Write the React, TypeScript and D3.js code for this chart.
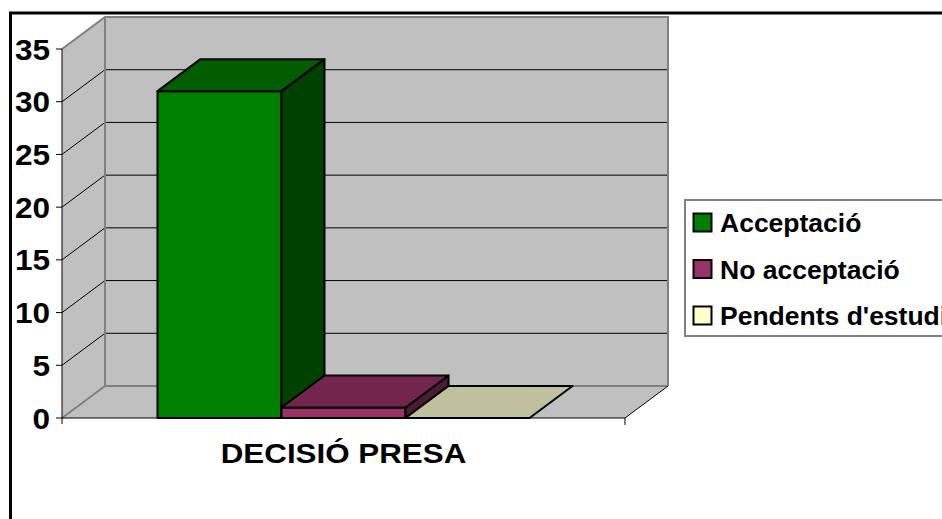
import React, { useEffect, useRef } from 'react';
import * as d3 from 'd3';

// chart data
const categories = ['DECISIÓ PRESA'];
const seriesNames = ['Acceptació', 'No acceptació', "Pendents d'estudi"];
const seriesValues = [31, 1, 0];
const yTicks = [0, 5, 10, 15, 20, 25, 30, 35];

// face colours per series: front, top, side
const frontColors = ['#008000', '#993366', '#FFFFCC'];
const topColors = ['#005E00', '#73264D', '#C0C0A0'];
const sideColors = ['#004000', '#4D1A33', '#A0A080'];

export default function App() {
  const svgRef = useRef<SVGSVGElement>(null);

  useEffect(() => {
    if (!svgRef.current) return;
    const svg = d3.select(svgRef.current);
    svg.selectAll('*').remove();

    const font = 'Liberation Sans, Arial, sans-serif';
    const dx = 43, dy = -32; // 3D depth offset
    const left = 62, right = 625;

    const y = d3.scaleLinear().domain([0, 35]).range([418, 49]);
    const x0 = d3.scaleBand<string>().domain(categories).range([left, right]);
    const x1 = d3
      .scaleBand<string>()
      .domain(seriesNames)
      .range([0, x0.bandwidth()])
      .paddingOuter(0.77);

    const y0 = y(0);
    const yTop = y(35);

    // outer frame
    svg.append('rect')
      .attr('x', 10.5).attr('y', 13)
      .attr('width', 1000).attr('height', 600)
      .attr('fill', 'white')
      .attr('stroke', 'black').attr('stroke-width', 3);

    // side wall
    svg.append('path')
      .attr('d', `M${left},${yTop}L${left + dx},${yTop + dy}L${left + dx},${y0 + dy}L${left},${y0}Z`)
      .attr('fill', '#C0C0C0');
    // back wall
    svg.append('rect')
      .attr('x', left + dx).attr('y', yTop + dy)
      .attr('width', right - left).attr('height', y0 - yTop)
      .attr('fill', '#C0C0C0');
    // floor
    svg.append('path')
      .attr('d', `M${left},${y0}L${left + dx},${y0 + dy}L${right + dx},${y0 + dy}L${right},${y0}Z`)
      .attr('fill', '#C0C0C0');

    // gridlines
    const grid = yTicks.filter(t => t > 0 && t < 35);
    svg.selectAll('.gridback')
      .data(grid)
      .enter()
      .append('line')
      .attr('x1', left + dx).attr('x2', right + dx)
      .attr('y1', d => y(d) + dy).attr('y2', d => y(d) + dy)
      .attr('stroke', 'black').attr('stroke-width', 1);
    svg.selectAll('.gridside')
      .data(grid)
      .enter()
      .append('line')
      .attr('x1', left).attr('x2', left + dx)
      .attr('y1', d => y(d)).attr('y2', d => y(d) + dy)
      .attr('stroke', 'black').attr('stroke-width', 1);

    // wall edges
    const edge = '#808080';
    svg.append('path')
      .attr('d', `M${left},${yTop}L${left + dx},${yTop + dy}L${right + dx},${yTop + dy}L${right + dx},${y0 + dy}`)
      .attr('fill', 'none').attr('stroke', edge).attr('stroke-width', 2);
    svg.append('path')
      .attr('d', `M${left + dx},${yTop + dy}L${left + dx},${y0 + dy}L${right + dx},${y0 + dy}M${left},${y0}L${left + dx},${y0 + dy}`)
      .attr('fill', 'none').attr('stroke', edge).attr('stroke-width', 2);
    svg.append('line')
      .attr('x1', right).attr('y1', y0).attr('x2', right + dx).attr('y2', y0 + dy)
      .attr('stroke', 'black').attr('stroke-width', 1);

    // bars
    const bars = svg.append('g');
    seriesNames.forEach((name, i) => {
      const v = seriesValues[i];
      const bx = (x0(categories[0]) || 0) + (x1(name) || 0);
      const bw = x1.bandwidth();
      const by = y(v);
      const g = bars.append('g')
        .attr('stroke', 'black').attr('stroke-width', 2).attr('stroke-linejoin', 'round');
      if (v > 0) {
        g.append('rect')
          .attr('x', bx).attr('y', by).attr('width', bw).attr('height', y0 - by)
          .attr('fill', frontColors[i]);
        g.append('path')
          .attr('d', `M${bx + bw},${by}L${bx + bw + dx},${by + dy}L${bx + bw + dx},${y0 + dy}L${bx + bw},${y0}Z`)
          .attr('fill', sideColors[i]);
      }
      g.append('path')
        .attr('d', `M${bx},${by}L${bx + dx},${by + dy}L${bx + bw + dx},${by + dy}L${bx + bw},${by}Z`)
        .attr('fill', topColors[i]);
    });

    // axes lines and ticks
    svg.append('line')
      .attr('x1', left).attr('x2', left).attr('y1', yTop).attr('y2', y0 + 6)
      .attr('stroke', 'black').attr('stroke-width', 1);
    svg.append('line')
      .attr('x1', left).attr('x2', right).attr('y1', y0).attr('y2', y0)
      .attr('stroke', 'black').attr('stroke-width', 1);
    svg.append('line')
      .attr('x1', right).attr('x2', right).attr('y1', y0).attr('y2', y0 + 7)
      .attr('stroke', 'black').attr('stroke-width', 1);
    svg.selectAll('.ytick')
      .data(yTicks)
      .enter()
      .append('line')
      .attr('x1', left - 6).attr('x2', left)
      .attr('y1', d => y(d)).attr('y2', d => y(d))
      .attr('stroke', 'black').attr('stroke-width', 1);
    svg.selectAll('.ylabel')
      .data(yTicks)
      .enter()
      .append('text')
      .attr('transform', d => `translate(50,${y(d)}) scale(1.07,1)`)
      .attr('dy', '0.36em')
      .attr('text-anchor', 'end')
      .attr('font-family', font)
      .attr('font-weight', 'bold')
      .attr('font-size', 29.5)
      .text(d => d);

    // category label
    svg.selectAll('.cat')
      .data(categories)
      .enter()
      .append('text')
      .attr('transform', d => `translate(${(x0(d) || 0) + x0.bandwidth() / 2},463) scale(1.12,1)`)
      .attr('text-anchor', 'middle')
      .attr('font-family', font)
      .attr('font-weight', 'bold')
      .attr('font-size', 28)
      .text(d => d);

    // legend
    const legend = svg.append('g');
    legend.append('rect')
      .attr('x', 685).attr('y', 200).attr('width', 400).attr('height', 136)
      .attr('fill', 'white').attr('stroke', '#808080').attr('stroke-width', 2);
    const rows = legend.selectAll('.item')
      .data(seriesNames)
      .enter()
      .append('g')
      .attr('transform', (_, i) => `translate(693,${213 + i * 46.5})`);
    rows.append('rect')
      .attr('x', 0.5).attr('y', 0.5).attr('width', 18).attr('height', 18)
      .attr('fill', (_, i) => frontColors[i])
      .attr('stroke', 'black').attr('stroke-width', 2);
    rows.append('text')
      .attr('x', 27).attr('y', 19)
      .attr('font-family', font)
      .attr('font-weight', 'bold')
      .attr('font-size', 26.5)
      .text(d => d);
  }, []);

  return (
    <svg
      ref={svgRef}
      width={942}
      height={519}
      style={{ position: 'absolute', left: 0, top: 0, background: 'white' }}
    ></svg>
  );
}
